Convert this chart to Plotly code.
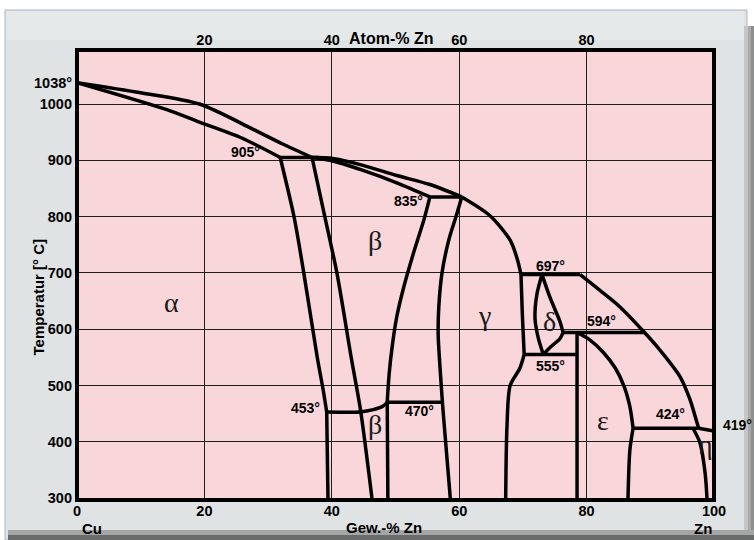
import plotly.graph_objects as go

# ---------------- data: Cu-Zn phase diagram (wt.-% Zn, temperature in °C) ----------------
# liquidus, Cu side down to the 905° peritectic
liq_cu_x = [0, 10, 19.2, 27.5, 32.3, 36.9]
liq_cu_t = [1038, 1020, 1000, 956, 929, 905]
# alpha solidus
sol_a_x = [0, 14.1, 19.2, 25.6, 31.9]
sol_a_t = [1038, 990, 968, 941, 905]
# alpha / (alpha+beta) boundary
solv_a_x = [31.9, 34.1, 35.6, 37.7, 38.6, 39.2]
solv_a_t = [905, 798, 700, 551, 495, 453]
solv_a_low_x = [39.2, 39.4]
solv_a_low_t = [453, 300]
# (alpha+beta) / beta boundary
beta_l_x = [36.9, 38.9, 40.8, 43.1, 44.5, 46.3]
beta_l_t = [905, 800, 700, 546, 457, 300]
# beta solidus and liquidus between 905° and 835°
sol_b_x = [36.9, 39.7, 44.9, 50.2, 55.4]
sol_b_t = [905, 900, 882, 860, 835]
liq_b_x = [36.9, 39.7, 44.9, 50.2, 55.4, 60.4]
liq_b_t = [905, 904, 891, 873, 857, 835]
# beta / (beta+gamma) boundary
beta_r_x = [55.4, 54.5, 52.9, 51.3, 50.2, 49.5, 49.0, 48.7]
beta_r_t = [835, 796, 738, 675, 622, 571, 520, 470]
beta_r_low_x = [48.7, 48.8]
beta_r_low_t = [470, 300]
# beta -> beta' ordering line between 453° and 470°
order_x = [39.2, 44.4, 46.5, 48.0, 48.7]
order_t = [453, 453, 457, 463, 470]
# (beta+gamma) / gamma boundary
gam_l_x = [60.4, 59.5, 58.4, 57.3, 56.8, 56.7, 57.0, 57.5, 58.6]
gam_l_t = [835, 800, 760, 700, 640, 590, 530, 450, 300]
# gamma / (gamma+L) boundary
gam_top_x = [60.4, 64.8, 68.0, 69.1, 69.7]
gam_top_t = [835, 802, 758, 725, 697]
# gamma right boundary above and below 555°
gam_r_hi_x = [69.7, 69.9, 70.2]
gam_r_hi_t = [697, 630, 555]
gam_r_lo_x = [70.2, 69.5, 68.0, 67.5, 67.3]
gam_r_lo_t = [555, 530, 500, 427, 300]
# delta phase field
del_l_x = [73.0, 72.2, 71.9, 72.4, 73.2]
del_l_t = [697, 662, 619, 585, 555]
del_ru_x = [73.0, 74.3, 75.8, 76.3]
del_ru_t = [697, 655, 614, 594]
del_rl_x = [76.3, 75.8, 74.3, 73.2]
del_rl_t = [594, 583, 568, 555]
# liquidus, Zn side from 697° to 424°
liq_zn_x = [79.0, 82.1, 85.2, 89.1, 91.5, 94.7, 96.2, 97.3, 97.6]
liq_zn_t = [697, 669, 640, 594, 563, 515, 476, 435, 424]
# liquidus end at pure zinc
liq_end_x = [97.6, 100]
liq_end_t = [424, 419]
# epsilon boundaries
eps_l_x = [78.5, 78.5]
eps_l_t = [594, 300]
eps_sol_x = [78.5, 80.5, 82.6, 84.5, 85.9, 86.8, 87.3]
eps_sol_t = [594, 581, 559, 531, 498, 462, 424]
eps_solv_x = [87.3, 86.8, 86.5]
eps_solv_t = [424, 386, 300]
# eta solvus
eta_x = [96.7, 97.8, 98.6, 98.9]
eta_t = [424, 398, 345, 300]

# invariant (horizontal) lines: temperature, x from, x to
iso_t = [905, 835, 697, 594, 555, 470, 424]
iso_x0 = [31.9, 55.4, 69.7, 76.3, 70.2, 48.7, 87.3]
iso_x1 = [38.0, 60.4, 79.0, 89.1, 78.5, 57.4, 97.6]

# temperature labels
temp_lbl = ["905°", "835°", "697°", "594°", "555°", "453°", "470°", "424°"]
temp_lbl_x = [26.4, 52.0, 74.3, 82.4, 74.3, 35.8, 53.7, 93.2]
temp_lbl_t = [914, 827, 713, 614, 534, 460, 455, 449]

# phase labels
phase_lbl = ["α", "β", "β", "γ", "δ", "ε", "η"]
phase_x = [14.9, 46.8, 46.8, 63.9, 74.1, 82.6, 98.7]
phase_t = [648, 758, 431, 624, 614, 437, 395]

x_ticks = [0, 20, 40, 60, 80, 100]
top_ticks = [20, 40, 60, 80]
t_ticks = [300, 400, 500, 600, 700, 800, 900, 1000]

# ---------------- layout geometry (page pixels) ----------------
W, H = 754, 540
PL, PR, PT, PB = 77, 714, 50, 500


def pxx(x):
    return (x - PL) / (PR - PL)


def pxy(y):
    return (PB - y) / (PB - PT)


fig = go.Figure()


def curve(xs, ts, smooth=True, width=3.5):
    fig.add_trace(go.Scatter(
        x=xs, y=ts, mode="lines",
        line=dict(color="black", width=width, shape="spline" if smooth else "linear",
                  smoothing=0.8),
        hoverinfo="skip", showlegend=False))


for xs, ts in [
    (liq_cu_x, liq_cu_t), (sol_a_x, sol_a_t), (solv_a_x, solv_a_t),
    (beta_l_x, beta_l_t), (sol_b_x, sol_b_t), (liq_b_x, liq_b_t),
    (beta_r_x, beta_r_t), (order_x, order_t), (gam_l_x, gam_l_t),
    (gam_top_x, gam_top_t), (gam_r_hi_x, gam_r_hi_t), (gam_r_lo_x, gam_r_lo_t),
    (del_l_x, del_l_t), (del_ru_x, del_ru_t), (del_rl_x, del_rl_t),
    (liq_zn_x, liq_zn_t), (eps_sol_x, eps_sol_t), (eps_solv_x, eps_solv_t),
    (eta_x, eta_t),
]:
    curve(xs, ts)

for xs, ts in [(solv_a_low_x, solv_a_low_t), (beta_r_low_x, beta_r_low_t),
               (eps_l_x, eps_l_t), (liq_end_x, liq_end_t)]:
    curve(xs, ts, smooth=False)

for t, x0, x1 in zip(iso_t, iso_x0, iso_x1):
    curve([x0, x1], [t, t], smooth=False)

# invisible trace that carries the top (Atom-%) axis
fig.add_trace(go.Scatter(x=[0, 100], y=[None, None], xaxis="x2", mode="lines",
                         hoverinfo="skip", showlegend=False))


# ---------------- background panel ----------------
def rect(x0, y0, x1, y1, fill, line=None, layer="below"):
    return dict(type="rect", xref="paper", yref="paper", layer=layer,
                x0=pxx(x0), x1=pxx(x1), y0=pxy(y1), y1=pxy(y0),
                fillcolor=fill, line=line or dict(width=0))


shapes = [
    rect(5, 10, 747, 540, "#dfe3e3", dict(color="#a9b5d2", width=1)),
    rect(6, 11, 744, 40, "#e5e9e9"),
    rect(744, 26, 748, 540, "#c4c6c6"),
    rect(748, 26, 751, 540, "#a8aaaa"),
    rect(751, 26, 754, 540, "#8e9090"),
    rect(8, 530, 754, 535, "#a4a6a6"),
    rect(8, 535, 754, 540, "#6a6c6c"),
    rect(PL, PT, PR, PB, "#f9d6d9"),
    # heavy frame around the diagram
    dict(type="rect", xref="paper", yref="paper", layer="above",
         x0=0, x1=1, y0=0, y1=1, line=dict(color="black", width=4)),
]

SANS = "Liberation Sans, Arial, sans-serif"
TICKF = dict(family=SANS, size=14.5, color="black", weight="bold")
TITLEF = dict(family=SANS, size=16, color="black", weight="bold")

annotations = []
for txt, x, t in zip(temp_lbl, temp_lbl_x, temp_lbl_t):
    annotations.append(dict(x=x, y=t, xref="x", yref="y", text=txt, showarrow=False,
                            font=dict(family=SANS, size=14, color="black", weight="bold")))
for txt, x, t in zip(phase_lbl, phase_x, phase_t):
    annotations.append(dict(x=x, y=t, xref="x", yref="y", text=txt, showarrow=False,
                            font=dict(family="Liberation Serif, Times New Roman, serif",
                                      size=28, color="#1a1a1a")))

annotations += [
    dict(x=0, y=1038, xref="paper", yref="y", text="1038°", showarrow=False,
         xanchor="right", xshift=-3, font=TICKF),
    dict(x=1, y=419, xref="paper", yref="y", text="419°", showarrow=False,
         xanchor="left", xshift=7, yshift=6,
         font=dict(family=SANS, size=14, color="black", weight="bold")),
    dict(x=pxx(391), y=pxy(28), xref="paper", yref="paper", text="Atom-% Zn", showarrow=False,
         font=TITLEF),
    dict(x=pxx(384), y=pxy(538), xref="paper", yref="paper", yanchor="bottom",
         text="Gew.-% Zn", showarrow=False, font=dict(family=SANS, size=15, color="black", weight="bold")),
    dict(x=pxx(80), y=pxy(539), xref="paper", yref="paper", yanchor="bottom",
         text="Cu", showarrow=False,
         font=dict(family=SANS, size=15, color="black", weight="bold")),
    dict(x=pxx(714), y=pxy(539), xref="paper", yref="paper", yanchor="bottom",
         text="Zn", showarrow=False,
         font=dict(family=SANS, size=15, color="black", weight="bold")),
    dict(x=pxx(27), y=pxy(297), xref="paper", yref="paper", text="Temperatur [° C]",
         showarrow=False, textangle=-90,
         font=dict(family=SANS, size=15, color="black", weight="bold")),
]

fig.update_layout(
    width=W, height=H,
    margin=dict(l=PL, r=W - PR, t=PT, b=H - PB, pad=0),
    paper_bgcolor="white",
    plot_bgcolor="rgba(0,0,0,0)",
    showlegend=False,
    shapes=shapes,
    annotations=annotations,
    xaxis=dict(range=[0, 100], tickvals=x_ticks, ticks="", showgrid=True,
               gridcolor="#1e1e1e", gridwidth=1.4, zeroline=False, showline=False,
               tickfont=TICKF, ticklabelstandoff=0, fixedrange=True),
    xaxis2=dict(range=[0, 100], overlaying="x", side="top", tickvals=top_ticks, ticks="",
                showgrid=False, zeroline=False, showline=False, tickfont=TICKF,
                ticklabelstandoff=1, fixedrange=True),
    yaxis=dict(range=[296.5, 1096], tickvals=t_ticks, ticks="", showgrid=True,
               gridcolor="#1e1e1e", gridwidth=1.4, zeroline=False, showline=False,
               tickfont=TICKF, ticklabelstandoff=4, fixedrange=True),
)

fig.write_html("out.html")
